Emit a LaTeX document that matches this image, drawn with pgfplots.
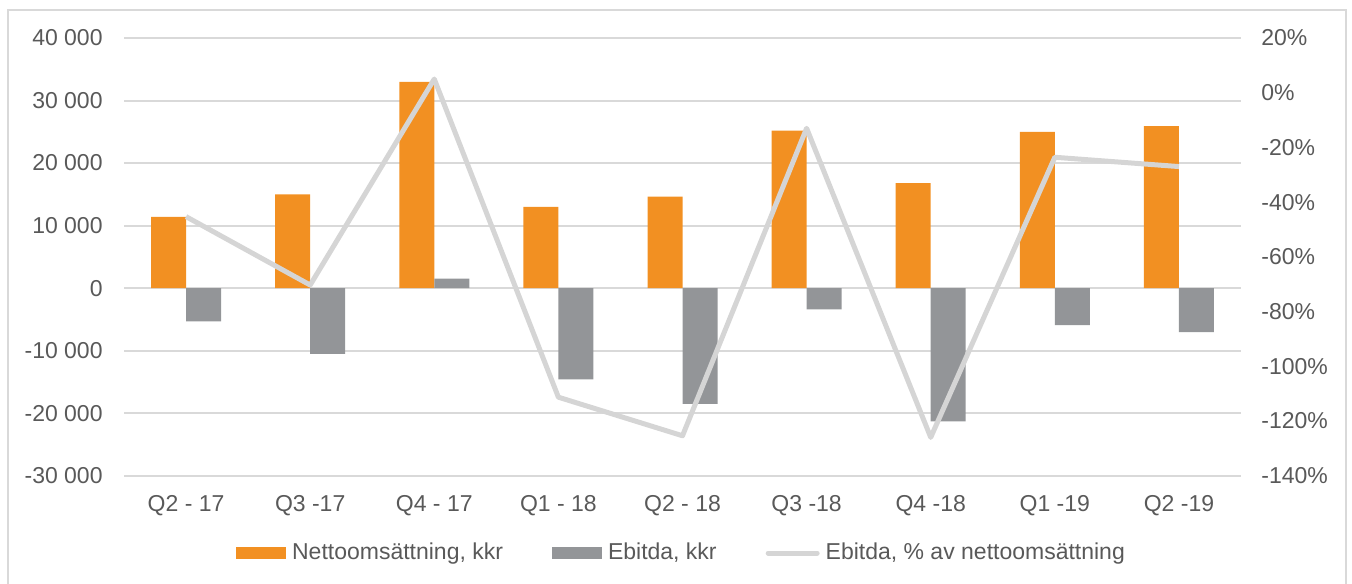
\documentclass[border=0pt]{standalone}
\usepackage{fontspec}
\setmainfont{Liberation Sans}
\usepackage{pgfplots}
\pgfplotsset{compat=1.18}
\definecolor{orangebar}{HTML}{F29022}
\definecolor{graybar}{HTML}{939598}
\definecolor{lineg}{HTML}{D5D5D5}
\definecolor{gridc}{HTML}{D9D9D9}
\definecolor{txt}{HTML}{595959}
\begin{document}
\begin{tikzpicture}[font=\fontsize{11.5}{13.8}\selectfont]
\useasboundingbox (0,0) rectangle (676pt,291.5pt);
\draw[gridc, line width=1pt] (3.85pt,-2pt) -- (3.85pt,286.5pt) -- (672.85pt,286.5pt) -- (672.85pt,-2pt);
\begin{axis}[
  at={(62pt,53.65pt)}, anchor=south west,
  scale only axis, width=558.5pt, height=218.85pt,
  xmin=-0.5, xmax=8.5, ymin=-30000, ymax=40000,
  scaled y ticks=false,
  ytick={-30000,-20000,-10000,0,10000,20000,30000,40000},
  yticklabels={-30 000,-20 000,-10 000,0,10 000,20 000,30 000,40 000},
  xtick={0,1,2,3,4,5,6,7,8},
  xticklabels={Q2 - 17,Q3 -17,Q4 - 17,Q1 - 18,Q2 - 18,Q3 -18,Q4 -18,Q1 -19,Q2 -19},
  axis line style={draw=none}, major tick length=0pt,
  ymajorgrids, grid style={gridc, line width=1pt},
  ybar, bar width=17.5pt,
  tick label style={text=txt, inner sep=0pt, font=\fontsize{11.5}{13.8}\selectfont},
  yticklabel shift=10.5pt, xticklabel shift=9.5pt,
]
\addplot[fill=orangebar, draw=none, bar shift=-8.75pt] coordinates {
(0,11400) (1,15000) (2,33000) (3,13000) (4,14650) (5,25200) (6,16800) (7,25000) (8,25900)};
\addplot[fill=graybar, draw=none, bar shift=8.75pt] coordinates {
(0,-5300) (1,-10500) (2,1500) (3,-14600) (4,-18500) (5,-3400) (6,-21300) (7,-5900) (8,-7050)};
\end{axis}
\begin{axis}[
  at={(62pt,53.65pt)}, anchor=south west,
  scale only axis, width=558.5pt, height=218.85pt,
  xmin=-0.5, xmax=8.5, ymin=-140, ymax=20,
  axis y line*=right, hide x axis,
  axis line style={draw=none}, major tick length=0pt,
  ytick={-140,-120,-100,-80,-60,-40,-20,0,20},
  yticklabels={-140\%,-120\%,-100\%,-80\%,-60\%,-40\%,-20\%,0\%,20\%},
  tick label style={text=txt, inner sep=0pt, font=\fontsize{11.5}{13.8}\selectfont},
  yticklabel shift=10pt,
  legend columns=3,
  legend style={at={(0.4982,-0.1766)}, anchor=center, draw=none, fill=none,
    text=txt, font=\fontsize{11.5}{13.8}\selectfont, inner sep=0pt,
    nodes={inner sep=0pt},
    /tikz/every odd column/.append style={column sep=3pt},
    /tikz/every even column/.append style={column sep=24.5pt}},
  legend cell align=left,
]
\addlegendimage{fill=orangebar, draw=none, legend image code/.code={\fill[orangebar] (0pt,-3pt) rectangle (25pt,3pt);}}
\addlegendentry{Nettoomsättning, kkr}
\addlegendimage{fill=graybar, draw=none, legend image code/.code={\fill[graybar] (0pt,-3pt) rectangle (25pt,3pt);}}
\addlegendentry{Ebitda, kkr}
\addplot[lineg, line width=2.5pt, line join=round, mark=none,
  legend image code/.code={\draw[lineg, line width=2.5pt, line cap=round] (1.25pt,0pt) -- (25.75pt,0pt);}] coordinates {
(0,-45.3) (1,-70.3) (2,5.0) (3,-111.3) (4,-125.4) (5,-13.0) (6,-126.0) (7,-23.6) (8,-27.0)};
\addlegendentry{Ebitda, \% av nettoomsättning}
\end{axis}
\end{tikzpicture}
\end{document}
